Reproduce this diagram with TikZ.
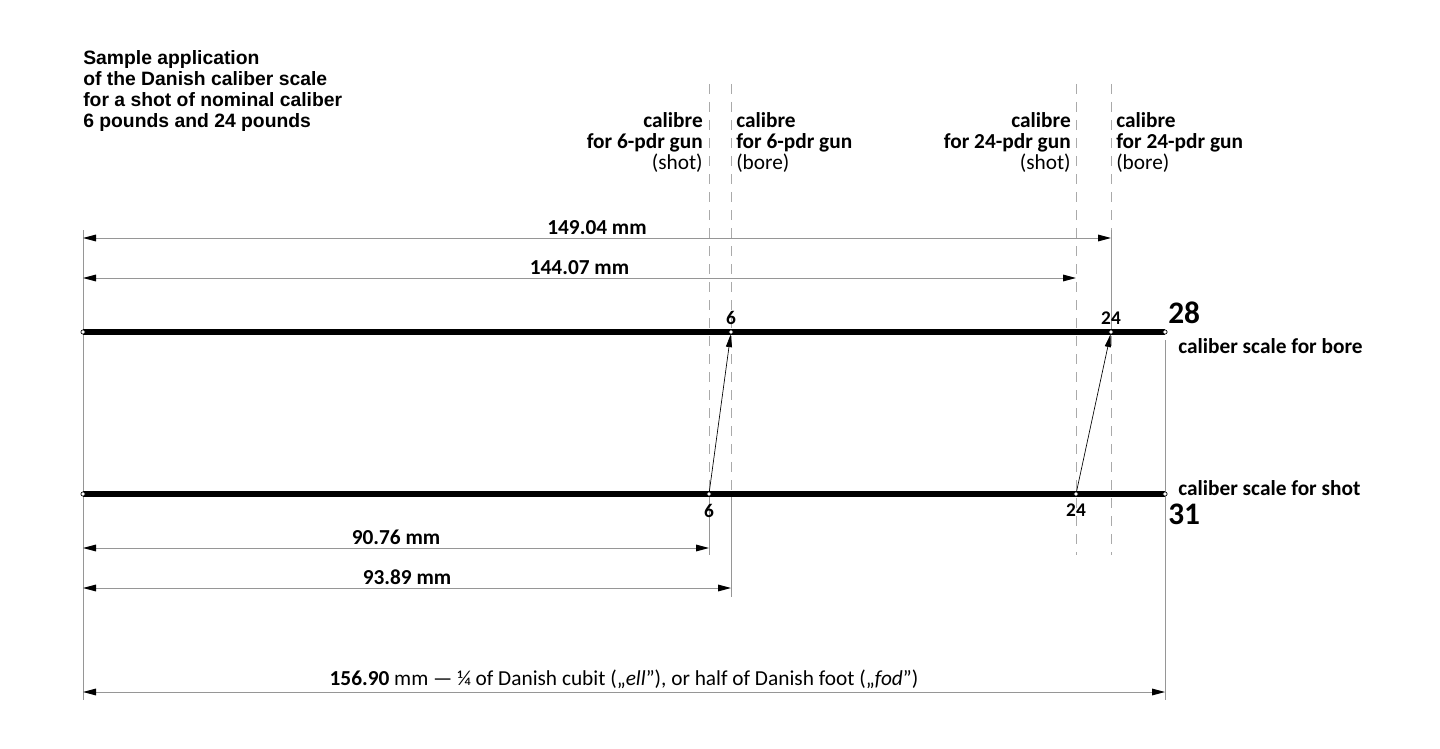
\documentclass[tikz,border=0pt]{standalone}
\usepackage{fontspec}
\setmainfont{Carlito}
\newfontfamily\titlefont{Liberation Sans}
\usepackage{tikz}
\usetikzlibrary{arrows.meta, positioning, calc}
\definecolor{linegray}{RGB}{150,150,150}
\definecolor{dashgray}{RGB}{170,170,170}
\tikzstyle{guide} = [draw=dashgray, line width=0.75pt, dash pattern=on 7.5pt off 6pt]
\tikzstyle{extline} = [draw=linegray, line width=0.75pt]
\tikzstyle{dimline} = [draw=linegray, line width=0.75pt, {Triangle[length=9.75pt,width=5pt,color=black]}-{Triangle[length=9.75pt,width=5pt,color=black]}]
\tikzstyle{scaleline} = [draw=black, line width=4pt]
\tikzstyle{dot} = [circle, draw=black, fill=white, line width=0.5pt, minimum size=3.2pt, inner sep=0pt]
\tikzstyle{pointer} = [draw=black, line width=0.5pt, -{Triangle[length=9.5pt,width=4.5pt]}]
\tikzstyle{calib} = [inner sep=0pt, font=\fontsize{16}{15.75}\selectfont]
\tikzstyle{dimlabel} = [inner sep=2pt, font=\fontsize{16}{19}\selectfont\bfseries]
\tikzstyle{numlabel} = [inner sep=0pt, font=\fontsize{14.5}{17}\selectfont\bfseries]
\tikzstyle{bignum} = [inner sep=0pt, font=\fontsize{23.5}{28}\selectfont\bfseries]
\tikzstyle{scalename} = [inner sep=0pt, font=\fontsize{16}{19}\selectfont\bfseries]

\begin{document}
\begin{tikzpicture}[x=0.75pt, y=-0.75pt, node distance=4pt]
    \useasboundingbox (0,0) rectangle (1440,749);
    \coordinate (BoreL) at (83,332);
    \coordinate (BoreR) at (1165,332);
    \coordinate (ShotL) at (83,494);
    \coordinate (ShotR) at (1165,494);
    \coordinate (Bore6) at (731,332);
    \coordinate (Shot6) at (709,494);
    \coordinate (Bore24) at (1111,332);
    \coordinate (Shot24) at (1076,494);

    \node (Title) [anchor=north west, inner sep=0pt, align=left, font=\titlefont\fontsize{14.5}{15.75}\selectfont\bfseries] at (83,50) {Sample application\\of the Danish caliber scale\\for a shot of nominal caliber\\6 pounds and 24 pounds};

    \node (Shot6Name) [calib, anchor=north east, align=right] at (703,112) {\textbf{calibre}\\\textbf{for 6-pdr gun}\\(shot)};
    \node (Bore6Name) [calib, anchor=north west, align=left] at (736,112) {\textbf{calibre}\\\textbf{for 6-pdr gun}\\(bore)};
    \node (Shot24Name) [calib, anchor=north east, align=right] at (1071,112) {\textbf{calibre}\\\textbf{for 24-pdr gun}\\(shot)};
    \node (Bore24Name) [calib, anchor=north west, align=left] at (1116,112) {\textbf{calibre}\\\textbf{for 24-pdr gun}\\(bore)};

    % guide lines
    \draw [guide] (Shot6 |- 0,84) -- (Shot6);
    \draw [guide] (Bore6 |- 0,84) -- (Bore6 |- Shot6);
    \draw [guide] (Shot24 |- 0,84) -- (Shot24 |- 0,555);
    \draw [guide] (Bore24 |- 0,84) -- (Bore24 |- 0,555);
    \draw [extline] (Bore24 |- 0,230) -- (Bore24);
    \draw [extline] (Shot6) -- (Shot6 |- 0,555);
    \draw [extline] (Bore6 |- Shot6) -- (Bore6 |- 0,597);
    \draw [extline] (BoreL |- 0,230) -- (BoreL |- 0,700);
    \draw [extline] (BoreR |- 0,340) -- (BoreR |- 0,700);

    % dimensions
    \draw [dimline] (BoreL |- 0,238) -- (Bore24 |- 0,238) node [dimlabel, midway, above] {149.04 mm};
    \draw [dimline] (BoreL |- 0,278) -- (Shot24 |- 0,278) node [dimlabel, midway, above] {144.07 mm};
    \draw [dimline] (ShotL |- 0,548) -- (Shot6 |- 0,548) node [dimlabel, midway, above] {90.76 mm};
    \draw [dimline] (ShotL |- 0,588) -- (Bore6 |- 0,588) node [dimlabel, midway, above] {93.89 mm};
    \draw [dimline] (BoreL |- 0,692) -- (BoreR |- 0,692) node [dimlabel, midway, above, font=\fontsize{16}{19}\selectfont] {\textbf{156.90} mm — ¼ of Danish cubit („\textit{ell}”), or half of Danish foot („\textit{fod}”)};

    % the two scales
    \draw [scaleline] (BoreL) -- (BoreR);
    \draw [scaleline] (ShotL) -- (ShotR);
    \foreach \p in {BoreL, BoreR, ShotL, ShotR, Bore6, Shot6, Bore24, Shot24}
        \node (\p Dot) [dot] at (\p) {};
    \draw [pointer] (Shot6Dot) -- (Bore6Dot);
    \draw [pointer] (Shot24Dot) -- (Bore24Dot);

    \node (Bore6Num) [numlabel, above = 3.5pt of Bore6Dot] {6};
    \node (Shot6Num) [numlabel, below = 5.5pt of Shot6Dot] {6};
    \node (Bore24Num) [numlabel, above = 3.5pt of Bore24Dot] {24};
    \node (Shot24Num) [numlabel, below = 5.5pt of Shot24Dot] {24};
    \node (BoreMax) [bignum, anchor=base west] at (1168,323) {28};
    \node (ShotMax) [bignum, anchor=north west] at (1168,504) {31};
    \node (BoreName) [scalename, anchor=north west] at (1178,338) {caliber scale for bore};
    \node (ShotName) [scalename, anchor=base west] at (1178,495) {caliber scale for shot};
\end{tikzpicture}
\end{document}
